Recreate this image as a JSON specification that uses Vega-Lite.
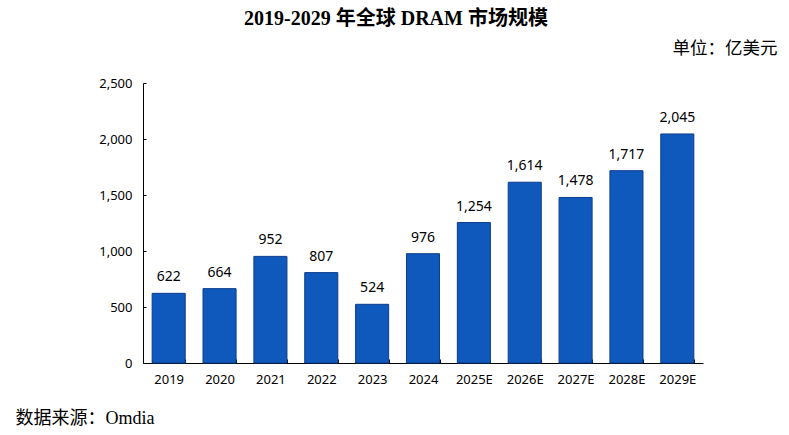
{
  "$schema": "https://vega.github.io/schema/vega-lite/v6.json",
  "autosize": {"type": "none"},
  "width": 560,
  "height": 280,
  "padding": {"left": 143, "top": 83, "right": 86, "bottom": 72},
  "background": "white",
  "title": {
    "text": "2019-2029 年全球 DRAM 市场规模",
    "font": "Liberation Serif, Noto Sans CJK SC",
    "fontSize": 20,
    "fontWeight": "bold",
    "color": "#000000",
    "anchor": "middle",
    "frame": "bounds",
    "offset": 10
  },
  "data": {
    "values": [
      {"year": "2019", "value": 622},
      {"year": "2020", "value": 664},
      {"year": "2021", "value": 952},
      {"year": "2022", "value": 807},
      {"year": "2023", "value": 524},
      {"year": "2024", "value": 976},
      {"year": "2025E", "value": 1254},
      {"year": "2026E", "value": 1614},
      {"year": "2027E", "value": 1478},
      {"year": "2028E", "value": 1717},
      {"year": "2029E", "value": 2045}
    ]
  },
  "encoding": {
    "x": {
      "field": "year",
      "type": "nominal",
      "sort": null,
      "scale": {"paddingInner": 0.35, "paddingOuter": 0.18},
      "axis": {
        "labelAngle": 0,
        "labelFont": "Noto Sans",
        "labelFontSize": 13,
        "labelColor": "#000000",
        "labelPadding": 14,
        "domainColor": "#000000",
        "tickColor": "#000000",
        "tickBand": "extent",
        "tickSize": -4,
        "title": "数据来源：Omdia",
        "titleFont": "Liberation Serif, Noto Sans CJK SC",
        "titleFontSize": 18,
        "titleFontWeight": "normal",
        "titleColor": "#000000",
        "titleAnchor": "start",
        "titleAlign": "left",
        "titleBaseline": "middle",
        "titleX": -128,
        "titleY": 55
      }
    },
    "y": {
      "field": "value",
      "type": "quantitative",
      "scale": {"domain": [0, 2500]},
      "axis": {
        "values": [0, 500, 1000, 1500, 2000, 2500],
        "format": ",.0f",
        "grid": false,
        "labelFont": "Noto Sans",
        "labelFontSize": 13,
        "labelColor": "#000000",
        "labelPadding": 14,
        "domainColor": "#000000",
        "tickColor": "#000000",
        "tickSize": -3,
        "title": "单位：亿美元",
        "titleFont": "Liberation Serif, Noto Sans CJK SC",
        "titleFontSize": 17.5,
        "titleFontWeight": "normal",
        "titleColor": "#000000",
        "titleAngle": 0,
        "titleAlign": "right",
        "titleBaseline": "middle",
        "titleX": 634,
        "titleY": -35
      }
    }
  },
  "layer": [
    {
      "mark": {"type": "bar", "color": "#0f58bc", "stroke": "#0b3d8c", "strokeWidth": 1}
    },
    {
      "mark": {"type": "text", "baseline": "bottom", "dy": -9, "font": "Noto Sans", "fontSize": 14, "color": "#000000"},
      "encoding": {
        "text": {"field": "value", "type": "quantitative", "format": ","}
      }
    }
  ],
  "config": {"view": {"stroke": null}}
}
